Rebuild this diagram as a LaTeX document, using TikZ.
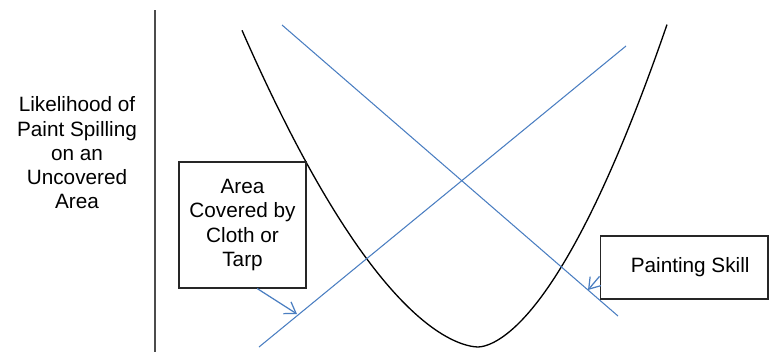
\documentclass[tikz,border=0pt]{standalone}
\usepackage{fontspec}
\setmainfont{Liberation Sans}
\usepackage{tikz}
\usetikzlibrary{arrows.meta,positioning}
\definecolor{lineblue}{RGB}{74,126,193}

\begin{document}
\begin{tikzpicture}[
        x=0.02cm, y=-0.02cm,
        every node/.style={align=center, font=\fontsize{11.8}{13.8}\selectfont},
        box/.style={draw=black!85, line width=0.6pt, fill=white, inner sep=0pt},
        blueline/.style={draw=lineblue, line width=0.6pt},
        arrow/.style={-{Straight Barb[length=6pt,width=8pt]}, draw=lineblue, line width=0.7pt},
        curve/.style={draw=black, line width=0.75pt},
        axis/.style={draw=black!70, line width=0.75pt}
    ]
    \useasboundingbox (0,0) rectangle (770,352);

    % Axis and its label
    \draw[axis] (155,10) -- (155,352);
    \node (likelihood) at (77,153) {Likelihood of\\Paint Spilling\\on an\\Uncovered\\Area};

    % Curve
    \draw[curve] plot[variable=\d, domain=236:0.01, samples=60] ({478-\d},{347-0.0293*\d^1.7})
        -- plot[variable=\d, domain=0.01:189, samples=60] ({478+\d},{347-0.0435*\d^1.7});

    % Straight lines
    \draw[blueline] (259,347) -- (626,46);
    \draw[blueline] (282,25) -- (618,316);

    % Boxes
    \node[box, minimum width=2.54cm, minimum height=2.52cm] (cover) at (242.5,225) {Area\\Covered by\\Cloth or\\Tarp};
    \node[box, minimum width=3.36cm, minimum height=1.26cm] (skill) at (684,267.5) {\hspace{7pt}Painting Skill};

    % Arrows
    \coordinate (covertip) at (297,314);
    \coordinate (skilltip) at (588,290);
    \draw[arrow] (cover.-77) -- (covertip);
    \draw[arrow] (skill.186) -- (skilltip);

\end{tikzpicture}
\end{document}
